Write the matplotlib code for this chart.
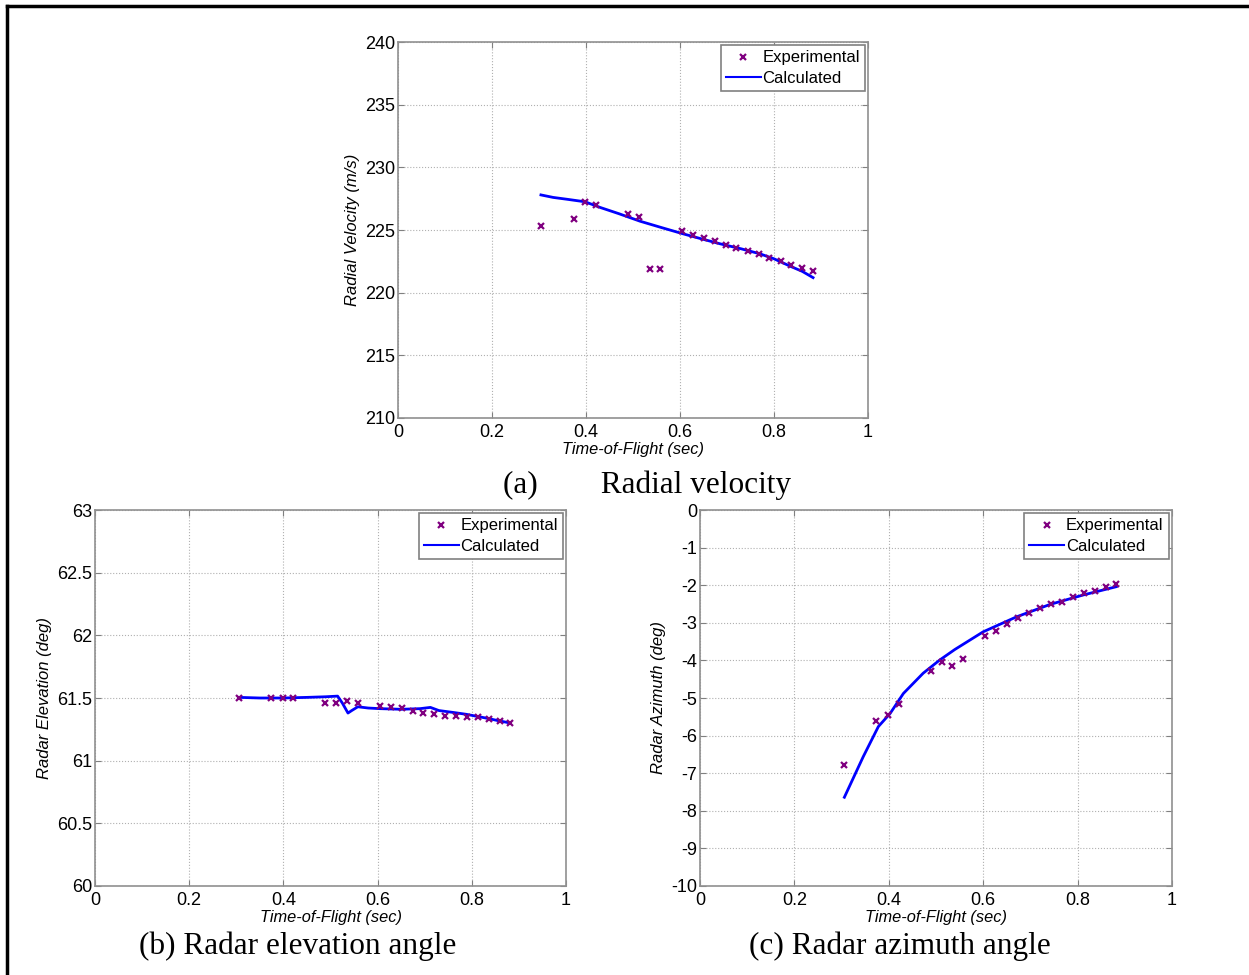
import matplotlib.pyplot as plt
import matplotlib.lines as mlines

# time of flight of the measured samples (sec)
t_exp = [0.305, 0.374, 0.398, 0.421, 0.489, 0.512, 0.535, 0.558, 0.605, 0.628,
         0.651, 0.674, 0.697, 0.720, 0.744, 0.767, 0.790, 0.814, 0.837, 0.860, 0.882]

# radial velocity (m/s)
vel_exp = [225.3, 225.9, 227.2, 227.0, 226.3, 226.0, 221.9, 221.9, 224.9, 224.6,
           224.4, 224.1, 223.8, 223.6, 223.3, 223.1, 222.8, 222.5, 222.2, 222.0, 221.7]
t_vel = [0.304, 0.33, 0.36, 0.398, 0.43, 0.47, 0.515, 0.56, 0.606, 0.645, 0.685,
         0.73, 0.77, 0.80, 0.835, 0.86, 0.883]
vel_calc = [227.8, 227.6, 227.45, 227.25, 226.8, 226.3, 225.7, 225.2, 224.7, 224.3,
            223.9, 223.5, 223.1, 222.7, 222.1, 221.7, 221.2]

# radar elevation (deg)
elev_exp = [61.50, 61.50, 61.50, 61.50, 61.46, 61.46, 61.48, 61.46, 61.44, 61.43,
            61.42, 61.40, 61.38, 61.37, 61.36, 61.356, 61.35, 61.345, 61.33, 61.32, 61.30]
t_elev = [0.306, 0.35, 0.40, 0.45, 0.49, 0.515, 0.525, 0.537, 0.545, 0.558, 0.58,
          0.605, 0.65, 0.69, 0.712, 0.73, 0.76, 0.788, 0.83, 0.855, 0.882]
elev_calc = [61.505, 61.50, 61.50, 61.505, 61.51, 61.515, 61.46, 61.38, 61.40, 61.43, 61.42,
             61.415, 61.41, 61.415, 61.425, 61.40, 61.385, 61.37, 61.34, 61.32, 61.30]

# radar azimuth (deg)
azim_exp = [-6.77, -5.61, -5.46, -5.16, -4.28, -4.04, -4.15, -3.96, -3.34, -3.22,
            -3.03, -2.88, -2.75, -2.61, -2.51, -2.44, -2.32, -2.22, -2.16, -2.04, -1.97]
t_azim = [0.306, 0.346, 0.378, 0.403, 0.431, 0.473, 0.508, 0.540, 0.600, 0.671,
          0.742, 0.812, 0.882]
azim_calc = [-7.64, -6.56, -5.76, -5.41, -4.88, -4.34, -3.99, -3.71, -3.24, -2.84,
             -2.51, -2.26, -2.04]

xticks = [0, 0.2, 0.4, 0.6, 0.8, 1]
xticklabels = ['0', '0.2', '0.4', '0.6', '0.8', '1']

plt.rcParams['font.family'] = ['Liberation Sans', 'DejaVu Sans']

fig = plt.figure(figsize=(12.49, 9.75), dpi=100)


def style_ax(ax, ylim, yticks, ylabel):
    ax.set_xlim(0, 1)
    ax.set_ylim(*ylim)
    ax.set_xticks(xticks)
    ax.set_xticklabels(xticklabels)
    ax.set_yticks(yticks)
    ax.set_yticklabels(['%g' % v for v in yticks])
    ax.tick_params(direction='in', length=4, width=0.8, color='#808080',
                   labelsize=13, top=True, right=True)
    ax.tick_params(axis='x', pad=4)
    ax.tick_params(axis='y', pad=2)
    ax.grid(True, linestyle=':', color='#b0b0b0', linewidth=0.8)
    for sp in ax.spines.values():
        sp.set_color('#909090')
        sp.set_linewidth(1.2)
    ax.set_xlabel('Time-of-Flight (sec)', fontsize=11.8, style='italic', labelpad=1)
    ax.set_ylabel(ylabel, fontsize=12, style='italic', labelpad=4)
    h1 = mlines.Line2D([], [], color='purple', marker='x', linestyle='None',
                       markersize=4.5, markeredgewidth=1.6, label='Experimental')
    h2 = mlines.Line2D([], [], color='blue', linewidth=1.5, label='Calculated')
    leg = ax.legend(handles=[h1, h2], loc='upper right', fontsize=12,
                    fancybox=False, framealpha=1, edgecolor='#808080',
                    borderaxespad=0.2, handlelength=2.1, handletextpad=0.1,
                    borderpad=0.3, labelspacing=0.35)
    leg.get_frame().set_linewidth(1.2)


ax1 = fig.add_axes([0.3187, 0.5713, 0.3763, 0.3856])
ax1.plot(t_vel, vel_calc, color='blue', linewidth=2)
ax1.plot(t_exp, vel_exp, linestyle='None', marker='x', color='purple',
         markersize=4.5, markeredgewidth=1.6)
style_ax(ax1, (210, 240), [210, 215, 220, 225, 230, 235, 240], 'Radial Velocity (m/s)')

ax2 = fig.add_axes([0.0761, 0.0913, 0.3771, 0.3856])
ax2.plot(t_elev, elev_calc, color='blue', linewidth=2)
ax2.plot(t_exp, elev_exp, linestyle='None', marker='x', color='purple',
         markersize=4.5, markeredgewidth=1.6)
style_ax(ax2, (60, 63), [60, 60.5, 61, 61.5, 62, 62.5, 63], 'Radar Elevation (deg)')

ax3 = fig.add_axes([0.5604, 0.0913, 0.3779, 0.3856])
ax3.plot(t_azim, azim_calc, color='blue', linewidth=2)
ax3.plot(t_exp, azim_exp, linestyle='None', marker='x', color='purple',
         markersize=4.5, markeredgewidth=1.6)
style_ax(ax3, (-10, 0), list(range(-10, 1)), 'Radar Azimuth (deg)')

# captions under each panel
cap = dict(fontsize=22.5, family='Liberation Serif', ha='center', va='center')
fig.text(0.518, 1 - 485 / 975, '(a)        Radial velocity', **cap)
fig.text(0.2386, 1 - 946 / 975, '(b) Radar elevation angle', **cap)
fig.text(0.7206, 1 - 946 / 975, '(c) Radar azimuth angle', **cap)

# outer frame (top and left edges visible)
fig.add_artist(mlines.Line2D([7 / 1249, 1], [1 - 6 / 975, 1 - 6 / 975],
                             color='black', linewidth=2.5, transform=fig.transFigure))
fig.add_artist(mlines.Line2D([7 / 1249, 7 / 1249], [0, 1 - 6 / 975],
                             color='black', linewidth=2.5, transform=fig.transFigure))

fig.savefig('out.png', dpi=100)
